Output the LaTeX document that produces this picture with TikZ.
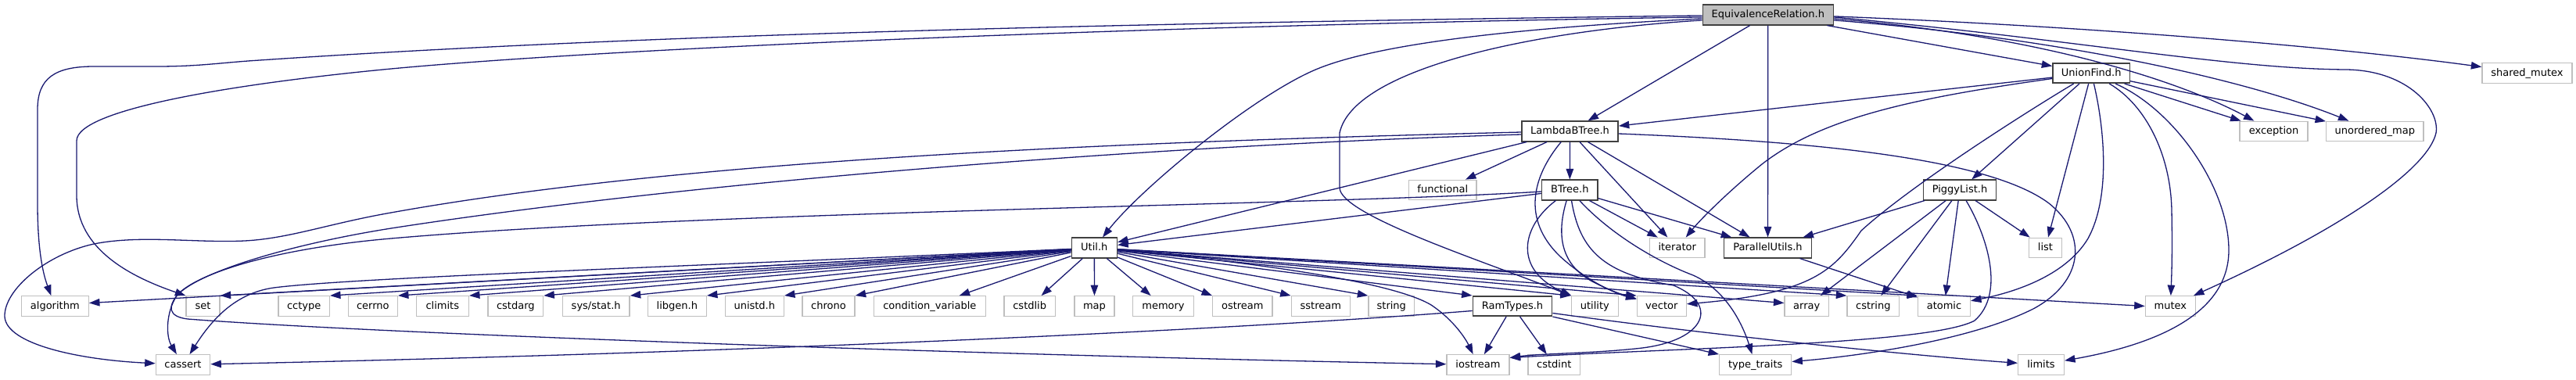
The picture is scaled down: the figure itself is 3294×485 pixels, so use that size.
\documentclass[tikz,border=0pt]{standalone}
\usepackage{fontspec}
\newfontfamily\dv{DejaVu Sans}
\usetikzlibrary{arrows.meta}
\definecolor{edgeblue}{HTML}{191970}
\definecolor{extgray}{HTML}{BFBFBF}
\definecolor{locgray}{HTML}{404040}
\begin{document}
\begin{tikzpicture}[x=1pt,y=-1pt,
  box/.style={rectangle, inner sep=0pt, minimum height=25.5pt, text height=10.5pt, text depth=2.7pt, fill=white, font=\dv\fontsize{13}{15}\selectfont},
  ext/.style={box, draw=extgray, line width=1.3pt},
  loc/.style={box, draw=locgray, line width=1.6pt},
  root/.style={box, draw=locgray, fill=extgray, line width=1.6pt},
  dep/.style={draw=edgeblue, line width=1.3pt, -{Triangle[length=13.5pt,width=9.5pt]}}
]
\useasboundingbox (0,0) rectangle (3294,485);
% row 0-4
\node[root, minimum width=167pt, minimum height=25.7pt] (ER) at (2260.8,18.9) {EquivalenceRelation.h};
\node[loc, minimum width=98.3pt] (UF) at (2674.2,93.5) {UnionFind.h};
\node[ext, minimum width=115pt] (shm) at (3231.5,93.5) {shared\_mutex};
\node[loc, minimum width=123pt] (LBT) at (2007.5,168) {LambdaBTree.h};
\node[ext, minimum width=87pt] (exc) at (2907.5,168) {exception};
\node[ext, minimum width=124.3pt] (umap) at (3036.8,168) {unordered\_map};
\node[ext, minimum width=86.3pt] (func) at (1844.8,243) {functional};
\node[loc, minimum width=71.3pt] (BT) at (2007.3,243) {BTree.h};
\node[loc, minimum width=93.3pt] (PL) at (2506,243) {PiggyList.h};
\node[loc, minimum width=58pt] (Util) at (1399.3,317) {Util.h};
\node[ext, minimum width=70.7pt] (iter) at (2144.7,317) {iterator};
\node[loc, minimum width=112.3pt] (PU) at (2260.5,317) {ParallelUtils.h};
\node[ext, minimum width=42.3pt] (list) at (2615.5,317) {list};
% row 5
\node[ext, minimum width=86pt] (alg) at (70.3,391.5) {algorithm};
\node[ext, minimum width=43pt] (set) at (259.5,391.5) {set};
\node[ext, minimum width=65.3pt] (cctype) at (388.7,391.5) {cctype};
\node[ext, minimum width=63pt] (cerrno) at (476.8,391.5) {cerrno};
\node[ext, minimum width=67pt] (climits) at (565.8,391.5) {climits};
\node[ext, minimum width=70.7pt] (cstdarg) at (659.3,391.5) {cstdarg};
\node[ext, minimum width=85.7pt] (sysstat) at (762.2,391.5) {sys/stat.h};
\node[ext, minimum width=75pt] (libgen) at (865.8,391.5) {libgen.h};
\node[ext, minimum width=75pt] (unistd) at (964.8,391.5) {unistd.h};
\node[ext, minimum width=67pt] (chrono) at (1059.5,391.5) {chrono};
\node[ext, minimum width=143pt] (condvar) at (1188.8,391.5) {condition\_variable};
\node[ext, minimum width=65.3pt] (cstdlib) at (1316.7,391.5) {cstdlib};
\node[ext, minimum width=51pt] (map) at (1399.5,391.5) {map};
\node[ext, minimum width=77.7pt] (memory) at (1487.5,391.5) {memory};
\node[ext, minimum width=76.3pt] (ostream) at (1588.8,391.5) {ostream};
\node[ext, minimum width=75pt] (sstream) at (1688.8,391.5) {sstream};
\node[ext, minimum width=58.7pt] (string) at (1779.3,391.5) {string};
\node[loc, minimum width=101.3pt] (RT) at (1934,391.5) {RamTypes.h};
\node[ext, minimum width=60pt] (utility) at (2039.3,391.5) {utility};
\node[ext, minimum width=63pt] (vector) at (2124.8,391.5) {vector};
\node[ext, minimum width=56.3pt] (array) at (2310.2,391.5) {array};
\node[ext, minimum width=66.7pt] (cstring) at (2395.3,391.5) {cstring};
\node[ext, minimum width=66.7pt] (atomic) at (2486,391.5) {atomic};
\node[ext, minimum width=64pt] (mutex) at (2775.3,391.5) {mutex};
% row 6
\node[ext, minimum width=69.3pt] (cassert) at (234,466.5) {cassert};
\node[ext, minimum width=80pt] (iostream) at (1890,466.5) {iostream};
\node[ext, minimum width=66.7pt] (cstdint) at (1987.3,466.5) {cstdint};
\node[ext, minimum width=92pt] (typetraits) at (2244.7,466.5) {type\_traits};
\node[ext, minimum width=58.7pt] (limits) at (2610,466.5) {limits};

% EquivalenceRelation.h
\draw[dep] ([yshift=-1pt]ER.west) .. controls (1400,30) and (800,45) .. (317,78) .. controls (277,81) and (250,85) .. (200,85) -- (120,85) .. controls (70,85) and (48,100) .. (48,140) -- (48,260) .. controls (48,320) and (55,350) .. (alg);
\draw[dep] ([yshift=-3pt]ER.west) .. controls (1500,32) and (800,60) .. (500,88) .. controls (300,107) and (98,140) .. (98,180) -- (98,250) .. controls (98,320) and (170,355) .. (set.north west);
\draw[dep] ([yshift=-5pt]ER.west) .. controls (1950,35) and (1760,55) .. (1680,90) .. controls (1600,125) and (1460,240) .. (Util);
\draw[dep] ([yshift=-7pt]ER.west) .. controls (1950,40) and (1730,90) .. (1713,170) -- (1713,240) .. controls (1713,275) and (1900,335) .. (utility.north west);
\draw[dep] (ER) -- (LBT);
\draw[dep] (ER) -- (PU);
\draw[dep] (ER) -- (UF);
\draw[dep] ([yshift=-2pt]ER.east) .. controls (2700,35) and (3000,62) .. (shm);
\draw[dep] ([yshift=-5pt]ER.east) .. controls (2600,45) and (2780,100) .. (exc);
\draw[dep] ([yshift=-7pt]ER.east) .. controls (2650,50) and (2880,105) .. (umap);
\draw[dep] ([yshift=-3pt]ER.east) .. controls (2650,50) and (2850,88) .. (3000,89) .. controls (3080,90) and (3120,140) .. (3115,170) .. controls (3105,215) and (3000,290) .. (mutex);

% UnionFind.h
\draw[dep] (UF) -- (LBT);
\draw[dep] (UF) .. controls (2450,125) and (2330,150) .. (2253,210) .. controls (2210,245) and (2175,280) .. (iter);
\draw[dep] (UF) .. controls (2580,150) and (2440,240) .. (2380,295) .. controls (2345,345) and (2320,375) .. (vector);
\draw[dep] (UF) -- (PL);
\draw[dep] (UF) -- (list);
\draw[dep] (UF) .. controls (2690,160) and (2700,250) .. (2670,305) .. controls (2640,355) and (2570,375) .. (atomic);
\draw[dep] (UF) .. controls (2745,135) and (2776,200) .. (2777,270) .. controls (2778,320) and (2777,350) .. (mutex);
\draw[dep] (UF) .. controls (2780,140) and (2850,240) .. (2850,320) .. controls (2850,400) and (2760,440) .. (limits);
\draw[dep] (UF) -- (exc);
\draw[dep] (UF) -- (umap);

% LambdaBTree.h
\draw[dep] (LBT) -- (BT);
\draw[dep] (LBT) -- (func);
\draw[dep] (LBT) -- (Util);
\draw[dep] (LBT) -- (iter);
\draw[dep] (LBT) -- (PU);
\draw[dep] (LBT) .. controls (1960,225) and (1945,280) .. (1995,328) .. controls (2030,360) and (2065,375) .. (vector);
\draw[dep] ([yshift=-3pt]LBT.east) .. controls (2300,180) and (2540,200) .. (2620,260) .. controls (2670,300) and (2665,360) .. (2600,395) .. controls (2520,435) and (2380,455) .. (typetraits);
\draw[dep] ([yshift=-1pt]LBT.west) .. controls (1500,180) and (900,200) .. (500,272) .. controls (420,286) and (370,305) .. (313,308) .. controls (250,311) and (180,300) .. (120,312) .. controls (60,325) and (5,370) .. (6,405) .. controls (8,440) and (100,460) .. (cassert);
\draw[dep] ([yshift=-4pt]LBT.west) .. controls (1500,185) and (900,230) .. (500,292) .. controls (380,311) and (260,345) .. (228,376) .. controls (214,392) and (215,405) .. (240,408) .. controls (500,428) and (1300,455) .. (iostream);

% BTree.h
\draw[dep] ([yshift=-2pt]BT.west) .. controls (1700,262) and (900,270) .. (500,305) .. controls (350,318) and (250,350) .. (226,378) .. controls (212,400) and (212,430) .. (cassert);
\draw[dep] (BT) -- (Util);
\draw[dep] (BT) .. controls (1945,290) and (1935,345) .. (utility);
\draw[dep] (BT) .. controls (1990,300) and (1995,340) .. (2040,362) .. controls (2060,372) and (2075,377) .. (vector);
\draw[dep] (BT) .. controls (2020,320) and (2050,350) .. (2140,365) .. controls (2200,390) and (2180,435) .. (2100,445) .. controls (2040,452) and (1970,452) .. ([yshift=9pt]iostream.east);
\draw[dep] (BT) .. controls (2060,300) and (2120,335) .. (2165,352) .. controls (2210,372) and (2230,420) .. (typetraits);
\draw[dep] (BT) -- (iter);
\draw[dep] (BT) -- (PU);

% PiggyList.h
\draw[dep] (PL) -- (PU);
\draw[dep] (PL) -- (array);
\draw[dep] (PL) -- (cstring);
\draw[dep] (PL) -- (atomic);
\draw[dep] (PL) -- (list);
\draw[dep] (PL) .. controls (2540,300) and (2565,375) .. (2525,410) .. controls (2470,440) and (2150,445) .. ([yshift=9pt]iostream.east);

% ParallelUtils.h
\draw[dep] (PU) -- (atomic);

% Util.h
\draw[dep] (Util) -- ([yshift=4pt]alg.east);
\draw[dep] (Util) -- (set.north east);
\draw[dep] (Util) -- (cctype.north east);
\draw[dep] (Util) -- (cerrno.north east);
\draw[dep] (Util) -- (climits.north east);
\draw[dep] (Util) -- (cstdarg.north east);
\draw[dep] (Util) -- (sysstat.north east);
\draw[dep] (Util) -- (libgen.north east);
\draw[dep] (Util) -- (unistd.north east);
\draw[dep] (Util) -- (chrono.north east);
\draw[dep] (Util) -- (condvar);
\draw[dep] (Util) -- (cstdlib);
\draw[dep] (Util) -- (map);
\draw[dep] (Util) -- (memory);
\draw[dep] (Util) -- (ostream.north west);
\draw[dep] (Util) -- (sstream.north west);
\draw[dep] (Util) -- (string.north west);
\draw[dep] (Util) -- (RT.north west);
\draw[dep] (Util) -- (utility.north west);
\draw[dep] (Util) -- (vector.north west);
\draw[dep] (Util) -- ([yshift=4pt]array.west);
\draw[dep] (Util) -- (cstring.north west);
\draw[dep] (Util) -- (atomic.north west);
\draw[dep] (Util) -- (mutex.west);
\draw[dep] (Util) .. controls (900,340) and (450,355) .. (350,368) .. controls (300,375) and (270,410) .. (cassert);
\draw[dep] (Util) .. controls (1600,335) and (1780,360) .. (1830,390) .. controls (1860,410) and (1875,435) .. (iostream);

% RamTypes.h
\draw[dep] ([yshift=-6pt]RT.west) .. controls (1600,420) and (1000,450) .. (cassert);
\draw[dep] (RT) -- (iostream);
\draw[dep] (RT) -- (cstdint);
\draw[dep] (RT.south east) -- (typetraits.north west);
\draw[dep] ([yshift=-9pt]RT.east) .. controls (2200,430) and (2450,455) .. (limits);
\end{tikzpicture}
\end{document}
